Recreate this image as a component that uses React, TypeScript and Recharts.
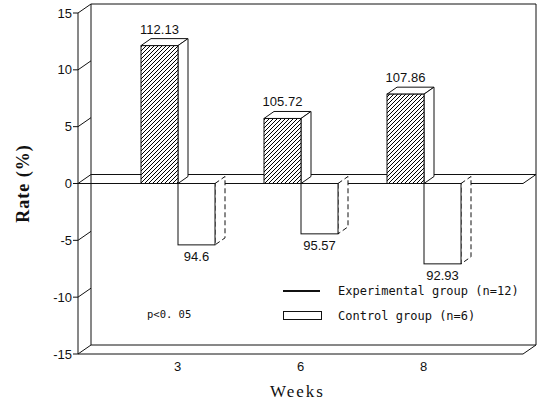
import React from "react"
import { BarChart, Bar, XAxis, YAxis, ReferenceArea, LabelList, Legend } from "recharts"

const weeks = ["3", "6", "8"]
const experimental = [12.13, 5.72, 7.86]
const control = [-5.4, -4.43, -7.07]
const experimentalLabels = ["112.13", "105.72", "107.86"]
const controlLabels = ["94.6", "95.57", "92.93"]
const yTicks = [-15, -10, -5, 0, 5, 10, 15]

const data = weeks.map((week, i) => ({
  week,
  experimental: experimental[i],
  control: control[i],
  expLabel: experimentalLabels[i],
  ctrlLabel: controlLabels[i],
}))

// depth of the bars and of the walls (fake 3d)
const DX = 10
const DY = -7
const WX = 13
const WY = -9
const XPAD = 38

const INK = "#111"
const SANS = "'Liberation Sans', Arial, sans-serif"
const MONO = "'DejaVu Sans Mono', monospace"
const SERIF = "'Liberation Serif', 'Times New Roman', serif"

const Frame = (props: any) => {
  // reference area stops at the axis padding, so widen it back to the plot edges
  const x = props.x - XPAD
  const w = props.width + XPAD * 2
  const { y, height: h } = props
  const y0 = y + h / 2
  const line = (pts: number[][]) => (
    <polyline points={pts.map((p) => p.join(",")).join(" ")} fill="none" stroke={INK} strokeWidth={1} />
  )
  return (
    <g>
      {line([[x + WX, y + h + WY], [x + WX, y + WY], [x + w + WX, y + WY], [x + w + WX, y + h + WY]])}
      {line([[x, y + h], [x + w, y + h], [x + w + WX, y + h + WY], [x + WX, y + h + WY]])}
      {yTicks.map((t) => {
        const yy = y + ((15 - t) / 30) * h
        return <line key={t} x1={x} y1={yy} x2={x + WX} y2={yy + WY} stroke={INK} />
      })}
      {line([[x, y0], [x + w, y0], [x + w + WX, y0 + WY], [x + WX, y0 + WY]])}
      <text x={x + 69} y={y0 + 134} fontFamily={MONO} fontSize={10.5} fill={INK}>
        p&lt;0. 05
      </text>
    </g>
  )
}

const ExperimentalBar = (props: any) => {
  const { x, y, width, height } = props
  const top = Math.min(y, y + height)
  const bottom = Math.max(y, y + height)
  return (
    <g>
      <polygon
        points={`${x},${top} ${x + DX},${top + DY} ${x + width + DX},${top + DY} ${x + width},${top}`}
        fill="#fff"
        stroke={INK}
      />
      <polygon
        points={`${x + width},${top} ${x + width + DX},${top + DY} ${x + width + DX},${bottom + DY} ${x + width},${bottom}`}
        fill="#fff"
        stroke={INK}
      />
      <rect x={x} y={top} width={width} height={bottom - top} fill="url(#hatch)" stroke={INK} />
    </g>
  )
}

const ControlBar = (props: any) => {
  const { x, y, width, height } = props
  const top = Math.min(y, y + height)
  const bottom = Math.max(y, y + height)
  return (
    <g>
      <polygon
        points={`${x + width},${top} ${x + width + DX},${top + DY} ${x + width + DX},${bottom + DY} ${x + width},${bottom}`}
        fill="#fff"
        stroke={INK}
        strokeDasharray="5 3"
      />
      <rect x={x} y={top} width={width} height={bottom - top} fill="#fff" stroke={INK} />
    </g>
  )
}

const TopLabel = (props: any) => {
  const { x, y, width, height, value } = props
  const top = Math.min(y, y + height)
  return (
    <text x={x + width / 2} y={top - 12} textAnchor="middle" fontFamily={SANS} fontSize={13} fill={INK}>
      {value}
    </text>
  )
}

const BottomLabel = (props: any) => {
  const { x, y, width, height, value } = props
  const bottom = Math.max(y, y + height)
  return (
    <text x={x + width / 2} y={bottom + 16} textAnchor="middle" fontFamily={SANS} fontSize={13} fill={INK}>
      {value}
    </text>
  )
}

const YLabel = (props: any) => {
  const { viewBox } = props
  const cx = 23
  const cy = viewBox.y + viewBox.height / 2
  return (
    <text
      x={cx}
      y={cy}
      transform={`rotate(-90 ${cx} ${cy})`}
      textAnchor="middle"
      dominantBaseline="central"
      fontFamily={SERIF}
      fontWeight="bold"
      fontSize={18}
      letterSpacing={1}
      fill={INK}
    >
      Rate (%)
    </text>
  )
}

const XLabel = (props: any) => {
  const { viewBox } = props
  return (
    <text
      x={viewBox.x + viewBox.width / 2 - 3}
      y={viewBox.y + 43}
      textAnchor="middle"
      fontFamily={SERIF}
      fontSize={17}
      letterSpacing={2}
      fill={INK}
    >
      Weeks
    </text>
  )
}

const renderLegend = (props: any) => {
  const { payload = [] } = props
  const rows = [...payload].sort((a: any, b: any) =>
    a.dataKey === "experimental" ? -1 : b.dataKey === "experimental" ? 1 : 0
  )
  return (
    <div style={{ fontFamily: MONO, fontSize: 12, color: INK }}>
      {rows.map((entry: any) => (
        <div key={entry.value} style={{ display: "flex", alignItems: "center", height: 25 }}>
          {entry.dataKey === "experimental" ? (
            <span style={{ width: 37, borderTop: `2px solid ${INK}`, marginRight: 18 }} />
          ) : (
            <span
              style={{ width: 37, height: 7, border: `1px solid ${INK}`, background: "#fff", marginRight: 16 }}
            />
          )}
          <span>{entry.value}</span>
        </div>
      ))}
    </div>
  )
}

export default function App() {
  return (
    <div style={{ position: "absolute", left: 0, top: 0, background: "#fff" }}>
      <BarChart
        width={539}
        height={405}
        data={data}
        margin={{ top: 13, right: 16, left: 0, bottom: 21 }}
        barGap={0}
        barSize={37}
      >
        <defs>
          <pattern id="hatch" patternUnits="userSpaceOnUse" width={4} height={4}>
            <rect width={4} height={4} fill="#fff" />
            <path d="M-1,1 l2,-2 M0,4 l4,-4 M3,5 l2,-2" stroke="#000" strokeWidth={1} />
          </pattern>
        </defs>
        <ReferenceArea y1={-15} y2={15} shape={<Frame />} ifOverflow="visible" />
        <XAxis
          dataKey="week"
          axisLine={false}
          tickLine={{ stroke: "none" }}
          tick={{ fontFamily: SANS, fontSize: 13, fill: INK }}
          padding={{ left: XPAD, right: XPAD }}
          height={30}
          label={<XLabel />}
        />
        <YAxis
          width={78}
          domain={[-15, 15]}
          ticks={yTicks}
          interval={0}
          axisLine={{ stroke: INK }}
          tickLine={{ stroke: INK }}
          tickSize={5}
          tickMargin={1}
          tick={{ fontFamily: SANS, fontSize: 13, fill: INK }}
          label={<YLabel />}
        />
        <Legend
          layout="vertical"
          align="center"
          verticalAlign="middle"
          content={renderLegend}
          wrapperStyle={{ left: 283, top: 278, width: 250 }}
        />
        <Bar dataKey="experimental" name="Experimental group (n=12)" shape={<ExperimentalBar />} isAnimationActive={false}>
          <LabelList dataKey="expLabel" content={<TopLabel />} />
        </Bar>
        <Bar dataKey="control" name="Control group (n=6)" shape={<ControlBar />} isAnimationActive={false}>
          <LabelList dataKey="ctrlLabel" content={<BottomLabel />} />
        </Bar>
      </BarChart>
    </div>
  )
}
